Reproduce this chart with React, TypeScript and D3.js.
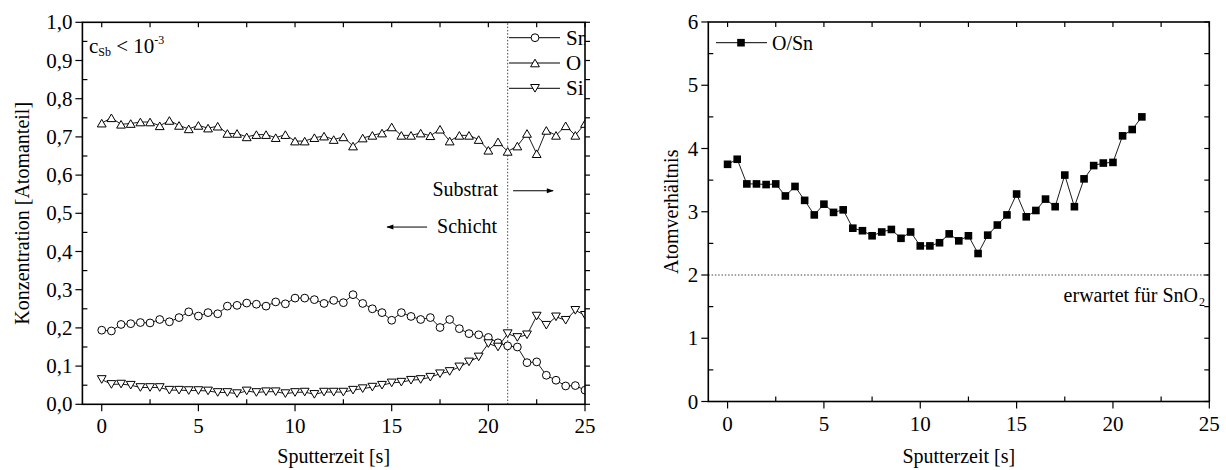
import React from "react";
import * as d3 from "d3";

// ---------- data ----------
const time = [0, 0.5, 1, 1.5, 2, 2.5, 3, 3.5, 4, 4.5, 5, 5.5, 6, 6.5, 7, 7.5, 8, 8.5, 9, 9.5, 10, 10.5, 11, 11.5, 12, 12.5, 13, 13.5, 14, 14.5, 15, 15.5, 16, 16.5, 17, 17.5, 18, 18.5, 19, 19.5, 20, 20.5, 21, 21.5, 22, 22.5, 23, 23.5, 24, 24.5, 25];
const sn = [0.194, 0.192, 0.209, 0.211, 0.214, 0.213, 0.222, 0.216, 0.227, 0.242, 0.231, 0.240, 0.237, 0.257, 0.259, 0.265, 0.262, 0.257, 0.268, 0.263, 0.278, 0.278, 0.274, 0.264, 0.272, 0.266, 0.287, 0.264, 0.250, 0.240, 0.220, 0.240, 0.230, 0.222, 0.227, 0.201, 0.222, 0.198, 0.185, 0.182, 0.175, 0.161, 0.153, 0.150, 0.109, 0.111, 0.076, 0.063, 0.048, 0.049, 0.037];
const ox = [0.736, 0.750, 0.733, 0.735, 0.739, 0.739, 0.729, 0.743, 0.730, 0.721, 0.730, 0.723, 0.728, 0.709, 0.709, 0.700, 0.706, 0.706, 0.698, 0.706, 0.689, 0.689, 0.698, 0.702, 0.693, 0.700, 0.676, 0.697, 0.704, 0.710, 0.726, 0.704, 0.704, 0.710, 0.703, 0.720, 0.689, 0.704, 0.704, 0.693, 0.665, 0.687, 0.662, 0.676, 0.709, 0.656, 0.717, 0.704, 0.729, 0.704, 0.735];
const si = [0.065, 0.052, 0.053, 0.050, 0.044, 0.044, 0.044, 0.037, 0.037, 0.036, 0.036, 0.035, 0.031, 0.031, 0.028, 0.035, 0.031, 0.033, 0.033, 0.028, 0.031, 0.032, 0.026, 0.032, 0.032, 0.032, 0.037, 0.041, 0.045, 0.050, 0.056, 0.058, 0.063, 0.065, 0.071, 0.080, 0.086, 0.098, 0.111, 0.124, 0.159, 0.150, 0.185, 0.175, 0.182, 0.231, 0.207, 0.229, 0.220, 0.246, 0.233];
const ratioTime = [0, 0.5, 1, 1.5, 2, 2.5, 3, 3.5, 4, 4.5, 5, 5.5, 6, 6.5, 7, 7.5, 8, 8.5, 9, 9.5, 10, 10.5, 11, 11.5, 12, 12.5, 13, 13.5, 14, 14.5, 15, 15.5, 16, 16.5, 17, 17.5, 18, 18.5, 19, 19.5, 20, 20.5, 21, 21.5];
const oSn = [3.75, 3.83, 3.44, 3.44, 3.43, 3.44, 3.25, 3.40, 3.18, 2.95, 3.12, 2.99, 3.03, 2.74, 2.70, 2.62, 2.68, 2.72, 2.58, 2.68, 2.46, 2.46, 2.51, 2.65, 2.54, 2.62, 2.34, 2.63, 2.79, 2.95, 3.28, 2.92, 3.02, 3.20, 3.08, 3.58, 3.08, 3.52, 3.73, 3.77, 3.78, 4.20, 4.30, 4.50];

const xMajor = [0, 5, 10, 15, 20, 25];
const xMinor = [2.5, 7.5, 12.5, 17.5, 22.5];
const leftYMajor = [0, 0.1, 0.2, 0.3, 0.4, 0.5, 0.6, 0.7, 0.8, 0.9, 1.0];
const leftYMinor = [0.05, 0.15, 0.25, 0.35, 0.45, 0.55, 0.65, 0.75, 0.85, 0.95];
const rightYMajor = [0, 1, 2, 3, 4, 5, 6];
const rightYMinor = [0.5, 1.5, 2.5, 3.5, 4.5, 5.5];
const boundary = 21;
const expected = 2;
const legendNames = ["Sn", "O", "Si"];

const FONT = "'Liberation Serif', 'Times New Roman', serif";
const FS = 20;
const TFS = 21;

const fmtComma = (v: number) => d3.format(".1f")(v).replace(".", ",");

type Sym = "circle" | "up" | "down" | "square";

function Marker({ x, y, sym }: { x: number; y: number; sym: Sym }) {
  if (sym === "circle") return <circle cx={x} cy={y} r={3.9} fill="white" stroke="black" strokeWidth={1} />;
  if (sym === "square") return <rect x={x - 3.8} y={y - 3.8} width={7.6} height={7.6} fill="black" />;
  const w = 4.4, h = 3.8;
  const pts = sym === "up"
    ? `${x},${y - h} ${x + w},${y + h} ${x - w},${y + h}`
    : `${x},${y + h} ${x + w},${y - h} ${x - w},${y - h}`;
  return <polygon points={pts} fill="white" stroke="black" strokeWidth={1} />;
}

function Series({ xs, ys, sx, sy, sym }: any) {
  const line = d3.line<number>().x((_, i) => sx(xs[i])).y((d) => sy(d));
  return (
    <g>
      <path d={line(ys) || ""} fill="none" stroke="black" strokeWidth={0.9} />
      {ys.map((v: number, i: number) => (
        <Marker key={i} x={sx(xs[i])} y={sy(v)} sym={sym} />
      ))}
    </g>
  );
}

function Frame({ sx, sy, yMajor, yMinor, fmt, rightTicks, rightOut }: any) {
  const [x0, x1] = sx.range();
  const [y0, y1] = sy.range();
  const sw = 1.6;
  return (
    <g stroke="black" strokeWidth={1.2}>
      {xMajor.map((v) => <line key={"bM" + v} x1={sx(v)} x2={sx(v)} y1={y0} y2={y0 + 7} />)}
      {xMinor.map((v) => <line key={"bm" + v} x1={sx(v)} x2={sx(v)} y1={y0} y2={y0 - 5} />)}
      {[...xMajor, ...xMinor].map((v) => <line key={"t" + v} x1={sx(v)} x2={sx(v)} y1={y1} y2={y1 + 5} />)}
      {yMajor.map((v: number) => <line key={"lM" + v} x1={x0} x2={x0 - 7} y1={sy(v)} y2={sy(v)} />)}
      {yMinor.map((v: number) => <line key={"lm" + v} x1={x0} x2={x0 + 5} y1={sy(v)} y2={sy(v)} />)}
      {rightTicks.map((v: number) => (
        <line key={"r" + v} x1={x1} x2={rightOut ? x1 + 5 : x1 - 5} y1={sy(v)} y2={sy(v)} />
      ))}
      <rect x={x0} y={y1} width={x1 - x0} height={y0 - y1} fill="none" strokeWidth={sw} />
      <g stroke="none" fill="black" fontFamily={FONT} fontSize={TFS}>
        {xMajor.map((v) => (
          <text key={"xl" + v} x={sx(v)} y={y0 + 29} textAnchor="middle">{v}</text>
        ))}
        {yMajor.map((v: number) => (
          <text key={"yl" + v} x={x0 - 10} y={sy(v) + 7} textAnchor="end">{fmt(v)}</text>
        ))}
      </g>
    </g>
  );
}

export default function App() {
  const lx = d3.scaleLinear().domain([-1, 25]).range([82.4, 585]);
  const ly = d3.scaleLinear().domain([0, 1]).range([404.3, 22.3]);
  const rx = d3.scaleLinear().domain([-1, 25]).range([708.3, 1209.3]);
  const ry = d3.scaleLinear().domain([0, 6]).range([401.5, 22]);

  const lRightTicks = [...leftYMajor, ...leftYMinor];
  const rRightTicks = [...rightYMajor, ...rightYMinor];
  const legendSyms: Sym[] = ["circle", "up", "down"];

  return (
    <svg width={1226} height={470} style={{ position: "absolute", left: 0, top: 0, background: "white" }}
      fontFamily={FONT}>
      <defs>
        <clipPath id="clipL">
          <rect x={lx.range()[0]} y={ly.range()[1]} width={lx.range()[1] - lx.range()[0]} height={ly.range()[0] - ly.range()[1]} />
        </clipPath>
        <clipPath id="clipR">
          <rect x={rx.range()[0]} y={ry.range()[1]} width={rx.range()[1] - rx.range()[0]} height={ry.range()[0] - ry.range()[1]} />
        </clipPath>
        <marker id="arrow" viewBox="0 0 10 10" refX="9" refY="5" markerWidth="9" markerHeight="7" orient="auto-start-reverse" markerUnits="userSpaceOnUse">
          <path d="M0,1.5 L10,5 L0,8.5 Z" fill="black" />
        </marker>
      </defs>

      {/* ---------- left chart ---------- */}
      <line x1={lx(boundary)} x2={lx(boundary)} y1={ly(0)} y2={ly(1)} stroke="#444" strokeWidth={1} strokeDasharray="1.5,1.8" />
      <g clipPath="url(#clipL)">
        <Series xs={time} ys={ox} sx={lx} sy={ly} sym="up" />
        <Series xs={time} ys={sn} sx={lx} sy={ly} sym="circle" />
        <Series xs={time} ys={si} sx={lx} sy={ly} sym="down" />
        {legendNames.map((n, i) => {
          const y = 37.7 + i * 25.3;
          return (
            <g key={n}>
              <line x1={509} x2={560} y1={y} y2={y} stroke="black" strokeWidth={1} />
              <Marker x={535} y={y} sym={legendSyms[i]} />
              <text x={566} y={y + 7} fontSize={TFS}>{n}</text>
            </g>
          );
        })}
      </g>
      <Frame sx={lx} sy={ly} yMajor={leftYMajor} yMinor={leftYMinor} fmt={fmtComma} rightTicks={lRightTicks} rightOut={true} />

      <text x={89} y={53} fontSize={TFS}>
        c<tspan fontSize={12} dy={3}>Sb</tspan><tspan dy={-3}> {"< 10"}</tspan><tspan fontSize={12} dy={-9}>-3</tspan>
      </text>

      <text x={lx(20.5)} y={ly(0.545)} fontSize={FS} textAnchor="end">Substrat</text>
      <line x1={lx(21.28)} x2={lx(23.35)} y1={ly(0.559)} y2={ly(0.559)} stroke="black" strokeWidth={1} markerEnd="url(#arrow)" />
      <text x={lx(17.35)} y={ly(0.448)} fontSize={FS}>Schicht</text>
      <line x1={lx(16.83)} x2={lx(14.76)} y1={ly(0.464)} y2={ly(0.464)} stroke="black" strokeWidth={1} markerEnd="url(#arrow)" />

      <text transform={`translate(29,${(ly(0) + ly(1)) / 2}) rotate(-90)`} textAnchor="middle" fontSize={FS}>Konzentration [Atomanteil]</text>
      <text x={(lx.range()[0] + lx.range()[1]) / 2} y={463} textAnchor="middle" fontSize={FS}>Sputterzeit [s]</text>

      {/* ---------- right chart ---------- */}
      <line x1={rx(-1)} x2={rx(25)} y1={ry(expected)} y2={ry(expected)} stroke="#444" strokeWidth={1} strokeDasharray="1.5,1.8" />
      <g clipPath="url(#clipR)">
        <Series xs={ratioTime} ys={oSn} sx={rx} sy={ry} sym="square" />
        <line x1={716} x2={767} y1={42.7} y2={42.7} stroke="black" strokeWidth={1} />
        <Marker x={741} y={42.7} sym="square" />
        <text x={772} y={49.7} fontSize={FS}>O/Sn</text>
      </g>
      <Frame sx={rx} sy={ry} yMajor={rightYMajor} yMinor={rightYMinor} fmt={(v: number) => String(v)} rightTicks={rRightTicks} rightOut={false} />

      <text x={1198} y={ry(expected) + 27} fontSize={FS} textAnchor="end">erwartet für SnO</text>
      <text x={1199} y={ry(expected) + 31} fontSize={12}>2</text>

      <text transform={`translate(678,${(ry(0) + ry(6)) / 2}) rotate(-90)`} textAnchor="middle" fontSize={FS}>Atomverhältnis</text>
      <text x={(rx.range()[0] + rx.range()[1]) / 2} y={463} textAnchor="middle" fontSize={FS}>Sputterzeit [s]</text>
    </svg>
  );
}
